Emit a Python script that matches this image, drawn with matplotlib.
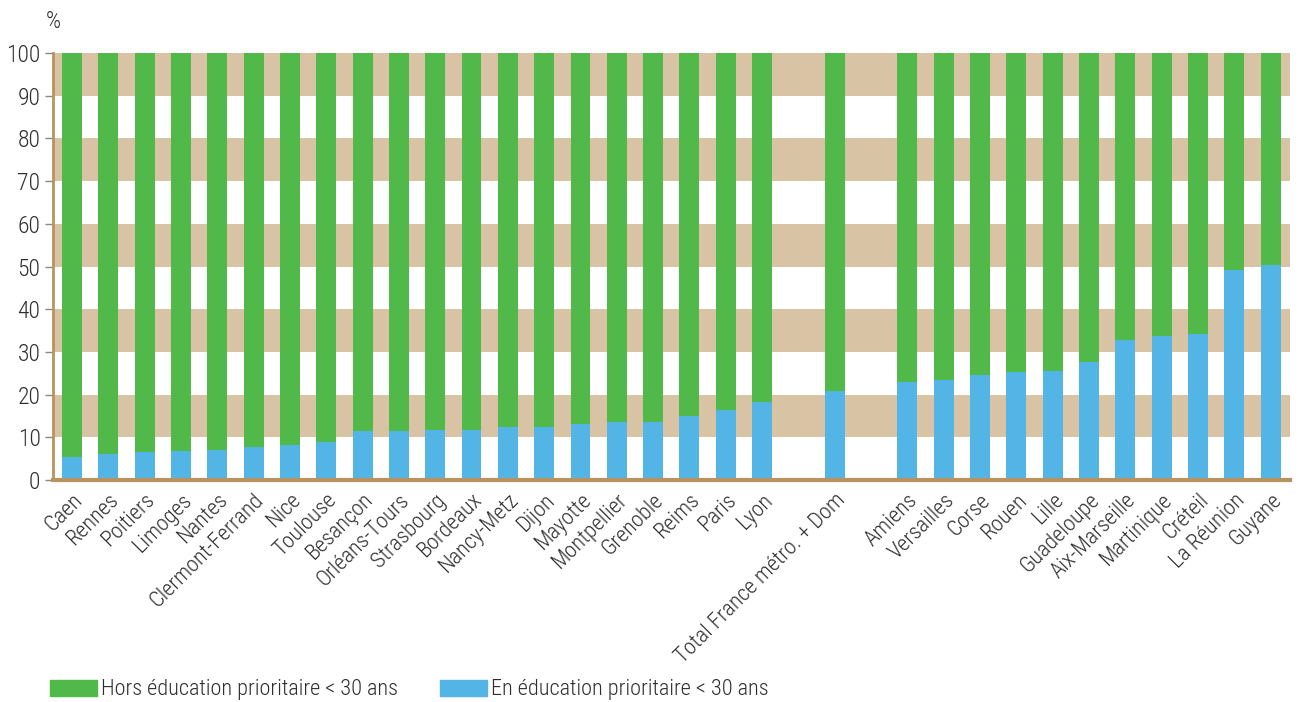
import matplotlib
matplotlib.use('Agg')
import matplotlib.pyplot as plt
from matplotlib.patches import Patch
import numpy as np

# academies, in display order (gaps around the national total)
academies_left = ['Caen', 'Rennes', 'Poitiers', 'Limoges', 'Nantes', 'Clermont-Ferrand',
                  'Nice', 'Toulouse', 'Besançon', 'Orléans-Tours', 'Strasbourg', 'Bordeaux',
                  'Nancy-Metz', 'Dijon', 'Mayotte', 'Montpellier', 'Grenoble', 'Reims',
                  'Paris', 'Lyon']
total_label = ['Total France métro. + Dom']
academies_right = ['Amiens', 'Versailles', 'Corse', 'Rouen', 'Lille', 'Guadeloupe',
                   'Aix-Marseille', 'Martinique', 'Créteil', 'La Réunion', 'Guyane']

# share of young teachers (< 30 ans) working in education prioritaire, %
ep_left = [5.4, 6.1, 6.6, 6.8, 7.0, 7.7, 8.2, 8.9, 11.5, 11.5, 11.8, 11.8,
           12.3, 12.5, 13.0, 13.5, 13.7, 15.1, 16.5, 18.2]
ep_total = [20.8]
ep_right = [22.9, 23.4, 24.7, 25.3, 25.5, 27.7, 32.9, 33.8, 34.3, 49.2, 50.4]

GREEN = '#51B84A'
BLUE = '#53B5E6'
TAN = '#D9C3A5'
SPINE = '#B8935F'
TEXT = '#2E2E2E'

plt.rcParams['font.family'] = ['Roboto Condensed', 'Barlow Condensed', 'DejaVu Sans']
plt.rcParams['font.weight'] = 'light'

labels = academies_left + total_label + academies_right
ep = np.array(ep_left + ep_total + ep_right)
hors = 100 - ep
# positions: one empty slot on each side of the total
pos = np.concatenate([np.arange(len(academies_left)),
                      [len(academies_left) + 1],
                      np.arange(len(academies_right)) + len(academies_left) + 3])

fig = plt.figure(figsize=(13.03, 7.02), dpi=100)
ax = fig.add_axes([53 / 1303, 1 - 480 / 702, (1290 - 53) / 1303, (480 - 53) / 702])

for lo in range(10, 100, 20):
    ax.axhspan(lo, lo + 10, color=TAN, lw=0, zorder=0)

w = 0.55
ax.bar(pos, ep, width=w, color=BLUE, zorder=2)
ax.bar(pos, hors, width=w, bottom=ep, color=GREEN, zorder=2)

ax.set_xlim(-0.52, pos[-1] + 0.53)
ax.set_ylim(0, 100)
ax.set_yticks(range(0, 101, 10))
ax.tick_params(axis='y', labelsize=17, colors='#888888', labelcolor=TEXT, length=6, width=1, pad=3)
ax.set_xticks(pos)
ax.set_xticklabels(labels, rotation=45, ha='right', rotation_mode='anchor',
                   fontsize=16, color=TEXT)
ax.tick_params(axis='x', length=0, pad=7)

for s in ['top', 'right']:
    ax.spines[s].set_visible(False)
ax.spines['left'].set_color(SPINE)
ax.spines['left'].set_linewidth(2)
ax.spines['bottom'].set_color(SPINE)
ax.spines['bottom'].set_linewidth(3)

fig.text(46 / 1303, 1 - 22 / 702, '%', fontsize=17, color=TEXT, ha='left', va='center')

handles = [Patch(color=GREEN, label='Hors éducation prioritaire < 30 ans'),
           Patch(color=BLUE, label='En éducation prioritaire < 30 ans')]
fig.legend(handles=handles, loc='center left', bbox_to_anchor=(30 / 1303, 1 - 690 / 702),
           ncol=2, frameon=False, fontsize=16, handlelength=2.1, handleheight=0.75,
           handletextpad=0.2, columnspacing=1.9, labelcolor=TEXT)

fig.savefig('out.png', dpi=100)
